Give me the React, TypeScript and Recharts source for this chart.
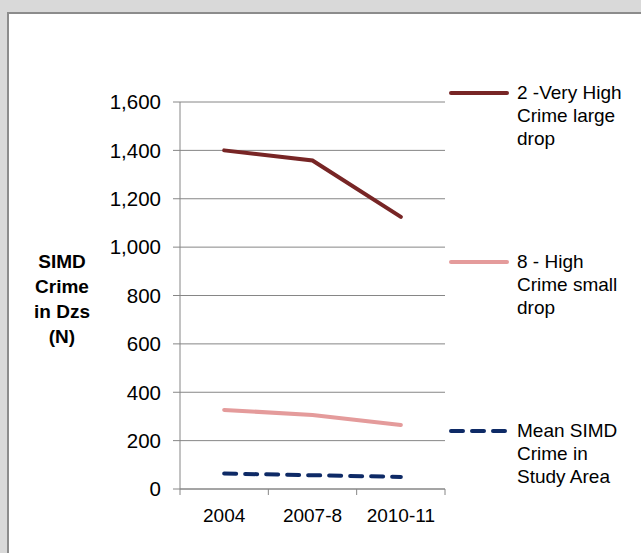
import React from 'react'
import { LineChart, Line, XAxis, YAxis, CartesianGrid } from 'recharts'

// ── Data ───────────────────────────────────────────────────────────────────────

const periods = ['2004', '2007-8', '2010-11']
const veryHighLargeDrop = [1400, 1358, 1125]
const highSmallDrop = [327, 306, 265]
const meanStudyArea = [64, 57, 50]
const yTicks = [0, 200, 400, 600, 800, 1000, 1200, 1400, 1600]

const seriesInfo = [
  { key: 'veryHigh', lines: ['2 -Very High', 'Crime large', 'drop'], color: '#772525', dash: undefined },
  { key: 'high', lines: ['8 - High', 'Crime small', 'drop'], color: '#E49B9B', dash: undefined },
  { key: 'mean', lines: ['Mean SIMD', 'Crime in', 'Study Area'], color: '#0E2A66', dash: '12 9' },
]

const data = periods.map((p, i) => ({
  period: p,
  veryHigh: veryHighLargeDrop[i],
  high: highSmallDrop[i],
  mean: meanStudyArea[i],
}))

// ── Layout ─────────────────────────────────────────────────────────────────────

const W = 641
const H = 553
const PLOT_LEFT = 180
const PLOT_RIGHT = 445
const PLOT_TOP = 102
const PLOT_BOTTOM = 489
const Y_AXIS_W = 70
const X_AXIS_H = 40
const FONT = '"Liberation Sans", Arial, sans-serif'
const AXIS_GREY = '#868686'

const bandW = (PLOT_RIGHT - PLOT_LEFT) / periods.length

// eslint-disable-next-line @typescript-eslint/no-explicit-any
function XTick({ x, y, payload, index }: any) {
  const top = y - 8
  return (
    <g>
      <line x1={x - bandW / 2} x2={x - bandW / 2} y1={top} y2={top + 6} stroke={AXIS_GREY} />
      {index === periods.length - 1 && (
        <line x1={x + bandW / 2} x2={x + bandW / 2} y1={top} y2={top + 6} stroke={AXIS_GREY} />
      )}
      <text x={x} y={top + 33} textAnchor="middle" fill="#000" fontSize={19} fontFamily={FONT}>
        {payload.value}
      </text>
    </g>
  )
}

// ── Legend (right side, one entry per series) ──────────────────────────────────

function LegendBox() {
  return (
    <div
      style={{
        position: 'absolute',
        left: 449,
        top: 81,
        width: 190,
        fontFamily: FONT,
        fontSize: 19,
        color: '#000',
      }}
    >
      {seriesInfo.map((s) => (
        <div key={s.key} style={{ height: 169, display: 'flex', alignItems: 'flex-start' }}>
          <svg width={68} height={24} style={{ flex: 'none' }}>
            <line
              x1={2}
              x2={58}
              y1={12}
              y2={12}
              stroke={s.color}
              strokeWidth={4}
              strokeLinecap="round"
              strokeDasharray={s.dash}
            />
          </svg>
          <div style={{ lineHeight: '23px' }}>
            {s.lines.map((l) => (
              <div key={l}>{l}</div>
            ))}
          </div>
        </div>
      ))}
    </div>
  )
}

export default function App() {
  return (
    <div style={{ position: 'absolute', left: 0, top: 0, width: W, height: H, background: '#d9d9d9', overflow: 'hidden' }}>
      <div
        style={{
          position: 'absolute',
          left: 7,
          top: 12,
          width: W,
          height: H,
          background: '#fff',
          border: '2px solid #8c8c8c',
          boxSizing: 'border-box',
        }}
      />
      <div
        style={{
          position: 'absolute',
          left: 22,
          top: 249,
          width: 80,
          textAlign: 'center',
          fontFamily: FONT,
          fontWeight: 'bold',
          fontSize: 19,
          lineHeight: '25px',
          color: '#000',
        }}
      >
        SIMD
        <br />
        Crime
        <br />
        in Dzs
        <br />
        (N)
      </div>
      <div style={{ position: 'absolute', left: 0, top: 0 }}>
        <LineChart
          width={W}
          height={H}
          data={data}
          margin={{
            top: PLOT_TOP,
            left: PLOT_LEFT - Y_AXIS_W,
            right: W - PLOT_RIGHT,
            bottom: H - PLOT_BOTTOM - X_AXIS_H,
          }}
        >
          <CartesianGrid vertical={false} stroke={AXIS_GREY} />
          <XAxis
            dataKey="period"
            scale="band"
            height={X_AXIS_H}
            axisLine={{ stroke: AXIS_GREY }}
            tickLine={false}
            tick={<XTick />}
            interval={0}
          />
          <YAxis
            width={Y_AXIS_W}
            domain={[0, 1600]}
            ticks={yTicks}
            tickFormatter={(v: number) => v.toLocaleString('en-US')}
            axisLine={{ stroke: AXIS_GREY }}
            tickLine={{ stroke: AXIS_GREY }}
            tickSize={7}
            tickMargin={12}
            tick={{ fill: '#000', fontSize: 20.5, fontFamily: FONT }}
          />
          {seriesInfo.map((s) => (
            <Line
              key={s.key}
              dataKey={s.key}
              stroke={s.color}
              strokeWidth={4}
              strokeDasharray={s.dash}
              strokeLinecap="round"
              dot={false}
              activeDot={false}
              isAnimationActive={false}
            />
          ))}
        </LineChart>
      </div>
      <LegendBox />
    </div>
  )
}
